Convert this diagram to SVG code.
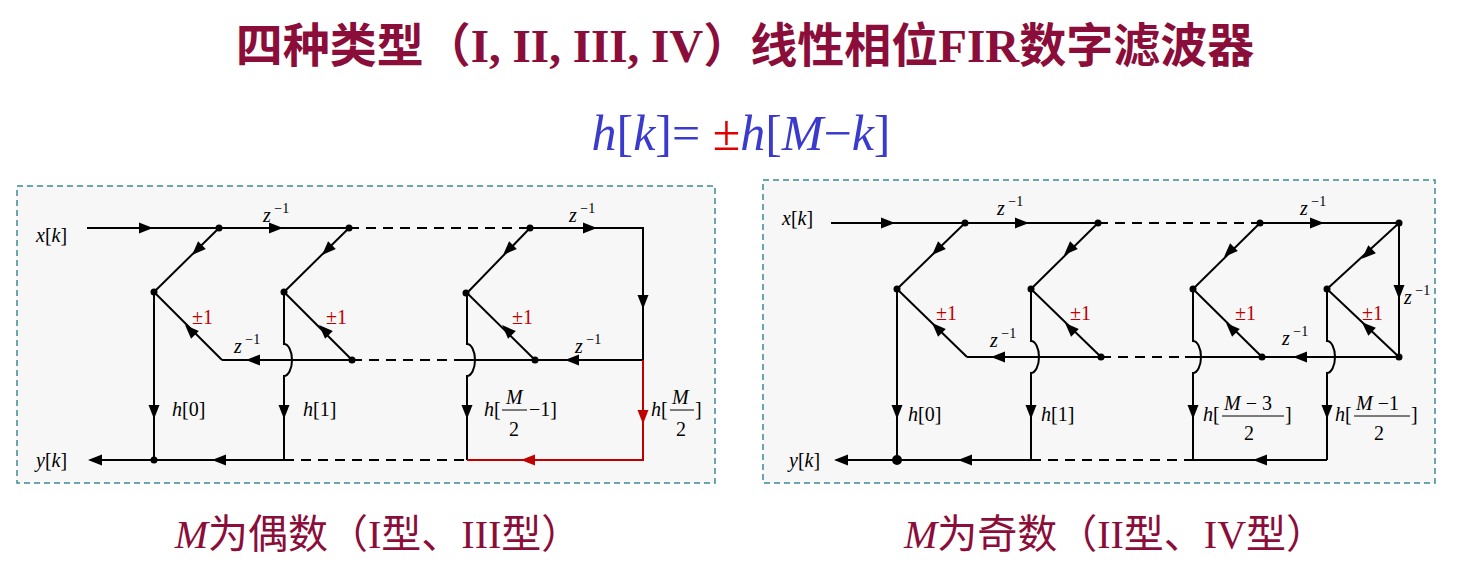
<svg xmlns="http://www.w3.org/2000/svg" xmlns:xlink="http://www.w3.org/1999/xlink" width="1458" height="572" viewBox="0 0 1458 572">
<style>
.t{font-family:"Liberation Serif","Noto Sans CJK SC",serif;fill:#8b0d3a}
.b{font-weight:bold}
.l{stroke:#000;stroke-width:2;fill:none}
.d{stroke:#000;stroke-width:2;fill:none;stroke-dasharray:10 7}
.r{stroke:#c00000;stroke-width:2;fill:none}
.m{font-family:"Liberation Serif","Times New Roman",serif;font-size:20px;fill:#000}
.i{font-style:italic}
.p{font-family:"Liberation Serif","Times New Roman",serif;font-size:20px;fill:#c00000}
.box{fill:#f7f7f7;stroke:#3a8a94;stroke-width:1.5;stroke-dasharray:6 4}
</style>
<defs>
<path id="a" d="M7,0 L-7,-5.5 L-7,5.5 Z" fill="#000"/>
<path id="ar" d="M7,0 L-7,-5.5 L-7,5.5 Z" fill="#c00000"/>
</defs>
<text class="t b" x="745" y="62" font-size="47" text-anchor="middle">四种类型（I, II, III, IV）线性相位FIR数字滤波器</text>
<text x="741" y="150" font-family="Liberation Serif,serif" font-size="50" text-anchor="middle" fill="#3a3acc"><tspan font-style="italic">h</tspan>[<tspan font-style="italic">k</tspan>]= <tspan fill="#e00000">±</tspan><tspan font-style="italic">h</tspan>[<tspan font-style="italic">M</tspan>−<tspan font-style="italic">k</tspan>]</text>
<rect class="box" x="17" y="186" width="698" height="297"/>
<rect class="box" x="763" y="180" width="672" height="303"/>
<g id="connectors">
<path class="l" d="M87,228 H349 M530,228 H643 V360 M643,360 H459 M222,360 H352"/>
<path class="d" d="M349,228 H530 M352,360 H459"/>
<path class="l" d="M219,228 L154,292 L222,360 M349,228 L284,292 L352,360 M530,228 L467,293 L535,360"/>
<path class="l" d="M154,292 V460 M284,292 V344 A8,16 0 0 1 284,376 V460 M467,293 V344 A8,16 0 0 1 467,376 V460"/>
<path class="l" d="M90,460 H284"/>
<path class="d" d="M284,460 H467"/>
<path class="r" d="M643,360 V460 H467"/>
<use xlink:href="#a" transform="translate(146,228)"/>
<use xlink:href="#a" transform="translate(276,228)"/>
<use xlink:href="#a" transform="translate(590,228)"/>
<use xlink:href="#a" transform="translate(643,302) rotate(90)"/>
<use xlink:href="#a" transform="translate(253,360) rotate(180)"/>
<use xlink:href="#a" transform="translate(572,360) rotate(180)"/>
<use xlink:href="#a" transform="translate(197,250) rotate(135)"/>
<use xlink:href="#a" transform="translate(327,250) rotate(135)"/>
<use xlink:href="#a" transform="translate(508,250) rotate(135)"/>
<use xlink:href="#a" transform="translate(190,330) rotate(-135)"/>
<use xlink:href="#a" transform="translate(324,330) rotate(-135)"/>
<use xlink:href="#a" transform="translate(507,330) rotate(-135)"/>
<use xlink:href="#a" transform="translate(154,412) rotate(90)"/>
<use xlink:href="#a" transform="translate(284,412) rotate(90)"/>
<use xlink:href="#a" transform="translate(467,412) rotate(90)"/>
<use xlink:href="#ar" transform="translate(643,417) rotate(90)"/>
<use xlink:href="#ar" transform="translate(528,460) rotate(180)"/>
<use xlink:href="#a" transform="translate(219,460) rotate(180)"/>
<use xlink:href="#a" transform="translate(95,460) rotate(180)"/>
<path class="l" d="M831,223 H1098 M1260,223 H1399 V357 H1185 M967,357 H1101"/>
<path class="d" d="M1098,223 H1260 M1101,357 H1185"/>
<path class="l" d="M965,223 L897,289 L967,357 M1098,223 L1031,289 L1101,357 M1260,223 L1193,289 L1262,357 M1399,223 L1327,289 L1399,357"/>
<path class="l" d="M897,289 V460 M1031,289 V341 A8,16 0 0 1 1031,373 V460 M1193,289 V341 A8,16 0 0 1 1193,373 V460 M1327,289 V341 A8,16 0 0 1 1327,373 V460"/>
<path class="l" d="M836,460 H1031 M1193,460 H1327"/>
<path class="d" d="M1031,460 H1193"/>
<use xlink:href="#a" transform="translate(888,223)"/>
<use xlink:href="#a" transform="translate(1022,223)"/>
<use xlink:href="#a" transform="translate(1317,223)"/>
<use xlink:href="#a" transform="translate(1399,292) rotate(90)"/>
<use xlink:href="#a" transform="translate(998,357) rotate(180)"/>
<use xlink:href="#a" transform="translate(1300,357) rotate(180)"/>
<use xlink:href="#a" transform="translate(937,250) rotate(135)"/>
<use xlink:href="#a" transform="translate(1069,250) rotate(135)"/>
<use xlink:href="#a" transform="translate(1229,252) rotate(135)"/>
<use xlink:href="#a" transform="translate(1367,254) rotate(137)"/>
<use xlink:href="#a" transform="translate(937,328) rotate(-135)"/>
<use xlink:href="#a" transform="translate(1070,328) rotate(-135)"/>
<use xlink:href="#a" transform="translate(1231,328) rotate(-135)"/>
<use xlink:href="#a" transform="translate(1367,327) rotate(-137)"/>
<use xlink:href="#a" transform="translate(897,412) rotate(90)"/>
<use xlink:href="#a" transform="translate(1031,412) rotate(90)"/>
<use xlink:href="#a" transform="translate(1193,412) rotate(90)"/>
<use xlink:href="#a" transform="translate(1327,412) rotate(90)"/>
<use xlink:href="#a" transform="translate(965,460) rotate(180)"/>
<use xlink:href="#a" transform="translate(1260,460) rotate(180)"/>
<use xlink:href="#a" transform="translate(841,460) rotate(180)"/>
</g>
<g id="nodes" fill="#000">
<circle cx="219" cy="228" r="3.5"/><circle cx="349" cy="228" r="3.5"/><circle cx="530" cy="228" r="3.5"/>
<circle cx="154" cy="292" r="3.5"/><circle cx="284" cy="292" r="3.5"/><circle cx="466" cy="293" r="3.5"/>
<circle cx="352" cy="360" r="3.5"/><circle cx="535" cy="360" r="3.5"/><circle cx="154" cy="460" r="3.5"/>
<circle cx="965" cy="223" r="3.5"/><circle cx="1098" cy="223" r="3.5"/><circle cx="1260" cy="223" r="3.5"/><circle cx="1399" cy="223" r="3.5"/>
<circle cx="897" cy="289" r="3.5"/><circle cx="1031" cy="289" r="3.5"/><circle cx="1193" cy="289" r="3.5"/><circle cx="1327" cy="289" r="3.5"/>
<circle cx="1101" cy="357" r="3.5"/><circle cx="1262" cy="357" r="3.5"/><circle cx="1399" cy="357" r="3.5"/>
<circle cx="897" cy="460" r="5"/>
</g>
<g id="labels">
<text class="m" x="36" y="242"><tspan class="i">x</tspan>[<tspan class="i">k</tspan>]</text>
<text class="m" x="36" y="467"><tspan class="i">y</tspan>[<tspan class="i">k</tspan>]</text>
<text class="m" x="263" y="222"><tspan class="i">z</tspan><tspan font-size="14" dy="-9"> −1</tspan></text>
<text class="m" x="569" y="222"><tspan class="i">z</tspan><tspan font-size="14" dy="-9"> −1</tspan></text>
<text class="m" x="234" y="353"><tspan class="i">z</tspan><tspan font-size="14" dy="-9"> −1</tspan></text>
<text class="m" x="575" y="353"><tspan class="i">z</tspan><tspan font-size="14" dy="-9"> −1</tspan></text>
<text class="p" x="192" y="324">±1</text><text class="p" x="326" y="324">±1</text><text class="p" x="512" y="324">±1</text>
<text class="m" x="172" y="416"><tspan class="i">h</tspan>[0]</text>
<text class="m" x="303" y="416"><tspan class="i">h</tspan>[1]</text>
<text class="m" x="484" y="416"><tspan class="i">h</tspan>[</text>
<text class="m i" x="506" y="404">M</text><line x1="502" y1="410" x2="527" y2="410" stroke="#000"/><text class="m" x="509" y="436">2</text>
<text class="m" x="529" y="416">−1]</text>
<text class="m" x="651" y="416"><tspan class="i">h</tspan>[</text>
<text class="m i" x="672" y="404">M</text><line x1="670" y1="410" x2="694" y2="410" stroke="#000"/><text class="m" x="676" y="436">2</text>
<text class="m" x="695" y="416">]</text>
<text class="m" x="782" y="225"><tspan class="i">x</tspan>[<tspan class="i">k</tspan>]</text>
<text class="m" x="789" y="467"><tspan class="i">y</tspan>[<tspan class="i">k</tspan>]</text>
<text class="m" x="997" y="215"><tspan class="i">z</tspan><tspan font-size="14" dy="-9"> −1</tspan></text>
<text class="m" x="1300" y="215"><tspan class="i">z</tspan><tspan font-size="14" dy="-9"> −1</tspan></text>
<text class="m" x="990" y="347"><tspan class="i">z</tspan><tspan font-size="14" dy="-9"> −1</tspan></text>
<text class="m" x="1282" y="345"><tspan class="i">z</tspan><tspan font-size="14" dy="-9"> −1</tspan></text>
<text class="m" x="1404" y="304"><tspan class="i">z</tspan><tspan font-size="14" dy="-9"> −1</tspan></text>
<text class="p" x="936" y="320">±1</text><text class="p" x="1070" y="320">±1</text><text class="p" x="1235" y="320">±1</text><text class="p" x="1362" y="320">±1</text>
<text class="m" x="908" y="421"><tspan class="i">h</tspan>[0]</text>
<text class="m" x="1041" y="421"><tspan class="i">h</tspan>[1]</text>
<text class="m" x="1203" y="421"><tspan class="i">h</tspan>[</text>
<text class="m" x="1224" y="410"><tspan class="i">M</tspan> − 3</text><line x1="1222" y1="416" x2="1284" y2="416" stroke="#000"/><text class="m" x="1244" y="440">2</text>
<text class="m" x="1285" y="421">]</text>
<text class="m" x="1335" y="421"><tspan class="i">h</tspan>[</text>
<text class="m" x="1356" y="410"><tspan class="i">M</tspan> −1</text><line x1="1354" y1="416" x2="1410" y2="416" stroke="#000"/><text class="m" x="1374" y="440">2</text>
<text class="m" x="1411" y="421">]</text>
</g>
<text class="t" x="378" y="548" font-size="40" text-anchor="middle"><tspan font-style="italic">M</tspan>为偶数（I型、III型）</text>
<text class="t" x="1115" y="548" font-size="40" text-anchor="middle"><tspan font-style="italic">M</tspan>为奇数（II型、IV型）</text>
</svg>
